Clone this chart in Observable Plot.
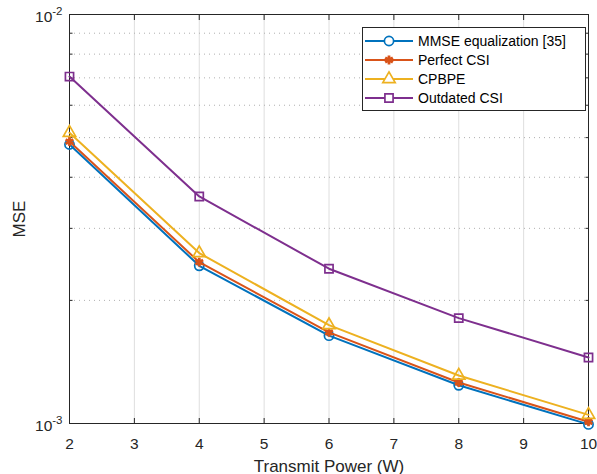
<!DOCTYPE html>
<html><head><meta charset="utf-8">
<script src="https://cdn.jsdelivr.net/npm/d3@7"></script>
<script src="https://cdn.jsdelivr.net/npm/@observablehq/plot@0.6"></script>
<style>
body{margin:0;background:#fff;font-family:"Liberation Sans",Arial,sans-serif;}
#wrap{position:relative;width:597px;height:474px;}
#legend{position:absolute;left:362px;top:27px;}
</style></head><body><div id="wrap"></div>
<script>
const power = [2, 4, 6, 8, 10];
const mmse = [4.81e-3, 2.43e-3, 1.64e-3, 1.24e-3, 0.995e-3];
const perfect = [4.89e-3, 2.48e-3, 1.67e-3, 1.26e-3, 1.01e-3];
const cpbpe = [5.14e-3, 2.61e-3, 1.74e-3, 1.31e-3, 1.05e-3];
const outdated = [7.05e-3, 3.59e-3, 2.39e-3, 1.81e-3, 1.45e-3];
const seriesNames = ["MMSE equalization [35]", "Perfect CSI", "CPBPE", "Outdated CSI"];
const seriesColors = ["#0072BD", "#D95319", "#EDB120", "#7E2F8E"];
const seriesSymbols = ["circle", "asterisk", "triangle", "square"];
const xTicks = [2, 3, 4, 5, 6, 7, 8, 9, 10];
const yMajor = [1e-3, 1e-2];
const yMinor = [2e-3, 3e-3, 4e-3, 5e-3, 6e-3, 7e-3, 8e-3, 9e-3];

const seriesValues = [mmse, perfect, cpbpe, outdated];
const rows = seriesNames.flatMap((name, s) => power.map((p, i) => ({series: name, power: p, mse: seriesValues[s][i]})));

const axisColor = "#262626";
const markerWidth = {circle: 1.7, asterisk: 2.8, triangle: 1.7, square: 1.7};
const markerR = {circle: 4.6, asterisk: 4.2, triangle: 4.6, square: 4.6};
const seriesMarks = seriesNames.flatMap((name, s) => {
  const d = rows.filter(r => r.series === name);
  const sym = seriesSymbols[s];
  return [
    Plot.line(d, {x: "power", y: "mse", stroke: "series", strokeWidth: 2}),
    Plot.dot(d, {x: "power", y: "mse", stroke: "series", symbol: "series", r: markerR[sym], strokeWidth: markerWidth[sym], fill: "none"})
  ];
});

const chart = Plot.plot({
  width: 597, height: 474,
  marginLeft: 69, marginRight: 9, marginTop: 14, marginBottom: 51,
  x: {domain: [2, 10]},
  y: {type: "log", domain: [1e-3, 1e-2]},
  color: {domain: seriesNames, range: seriesColors},
  symbol: {domain: seriesNames, range: seriesSymbols},
  style: {fontFamily: '"Liberation Sans", Arial, sans-serif', fontSize: "15.5px", color: axisColor, background: "#fff", overflow: "visible"},
  marks: [
    Plot.ruleX(xTicks, {stroke: "#dedede", strokeWidth: 1}),
    Plot.ruleY(yMinor, {stroke: "#b0b0b0", strokeWidth: 1, strokeDasharray: "1,4"}),
    Plot.frame({stroke: axisColor, strokeWidth: 1}),
    Plot.axisX({anchor: "bottom", ticks: xTicks, tickSize: -5, tickPadding: 19, stroke: axisColor, fontSize: 15.5,
      label: "Transmit Power (W)", labelAnchor: "center", labelArrow: "none", labelOffset: 48}),
    Plot.axisX({anchor: "top", ticks: xTicks, tickSize: -5, text: null, label: null, stroke: axisColor}),
    Plot.axisY({anchor: "left", ticks: yMajor, tickSize: -5, tickPadding: 12, stroke: axisColor, fontSize: 15.5,
      tickFormat: d => String(Math.round(Math.log10(d))),
      label: "MSE", labelAnchor: "center", labelArrow: "none", labelOffset: 57}),
    Plot.axisY({anchor: "left", ticks: yMinor, tickSize: -3.5, text: null, label: null, stroke: axisColor}),
    Plot.axisY({anchor: "right", ticks: yMinor, tickSize: -3.5, text: null, label: null, stroke: axisColor}),
    ...seriesMarks
  ]
});

// MATLAB-style superscript tick labels (only labelled major ticks)
d3.select(chart).selectAll('g[aria-label="y-axis tick label"] text').each(function() {
  const exp = this.textContent.trim();
  if (!exp) return;
  const t = d3.select(this);
  t.text("");
  t.append("tspan").attr("dy", "3").text("10");
  t.append("tspan").attr("dy", "-7").attr("font-size", "11.5px").text(exp);
});
d3.select(chart).selectAll('g[aria-label="x-axis label"] text, g[aria-label="y-axis label"] text').attr("font-size", "17px");

const wrap = document.getElementById("wrap");
wrap.appendChild(chart);

// Legend overlay
const lw = 224, lh = 84;
const leg = d3.select(wrap).append("svg").attr("id", "legend").attr("width", lw).attr("height", lh)
  .style("font-family", '"Liberation Sans", Arial, sans-serif').style("font-size", "14px");
leg.append("rect").attr("x", 0.5).attr("y", 0.5).attr("width", lw - 1).attr("height", lh - 1)
  .attr("fill", "#fff").attr("stroke", axisColor).attr("stroke-width", 1);
const symMap = {circle: d3.symbolCircle, asterisk: d3.symbolAsterisk, triangle: d3.symbolTriangle, square: d3.symbolSquare};
seriesNames.forEach((name, i) => {
  const cy = 14 + i * 19;
  const sym = seriesSymbols[i];
  const g = leg.append("g");
  g.append("line").attr("x1", 3).attr("x2", 51).attr("y1", cy).attr("y2", cy)
    .attr("stroke", seriesColors[i]).attr("stroke-width", 2);
  g.append("path").attr("transform", `translate(27,${cy})`)
    .attr("d", d3.symbol(symMap[sym], Math.PI * markerR[sym] * markerR[sym])())
    .attr("fill", "#fff").attr("stroke", seriesColors[i]).attr("stroke-width", markerWidth[sym]);
  g.append("text").attr("x", 56).attr("y", cy).attr("dy", "0.35em").attr("fill", "#000").text(name);
});
</script></body></html>
